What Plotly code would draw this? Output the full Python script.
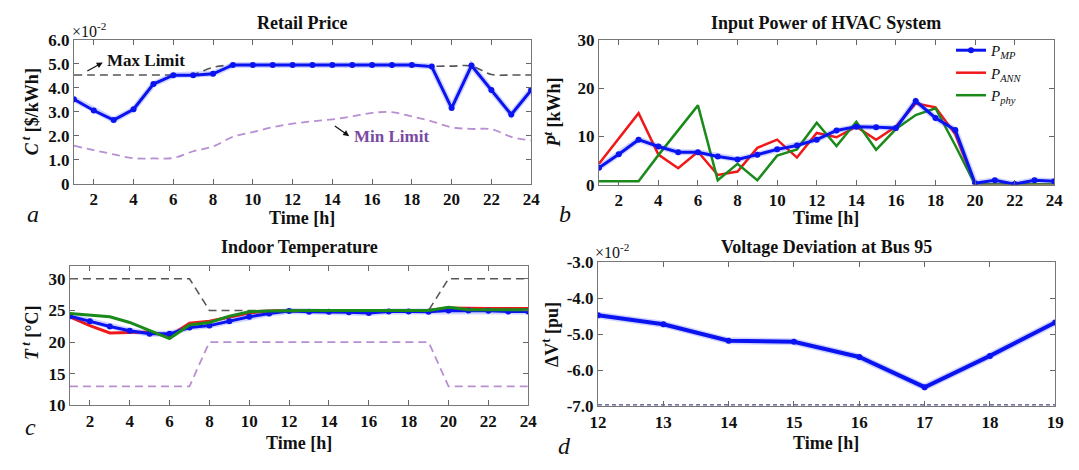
import plotly.graph_objects as go

W, H = 1079, 470
FONT = "Liberation Serif, Times New Roman, Times, serif"

hours = list(range(1, 25))
hours_d = [12, 13, 14, 15, 16, 17, 18, 19]

# Panel a: retail price (x1e-2 $/kWh)
price = [3.52, 3.05, 2.65, 3.1, 4.15, 4.52, 4.52, 4.58, 4.95, 4.95, 4.95, 4.95,
         4.95, 4.95, 4.95, 4.95, 4.95, 4.95, 4.88, 3.15, 4.92, 3.9, 2.88, 3.9]
price_max = [4.53, 4.53, 4.53, 4.53, 4.53, 4.53, 4.56, 4.85, 4.95, 4.95, 4.95, 4.95,
             4.95, 4.95, 4.95, 4.95, 4.95, 4.95, 4.9, 4.9, 4.9, 4.55, 4.53, 4.53]
price_min = [1.58, 1.4, 1.22, 1.06, 1.05, 1.07, 1.35, 1.55, 1.95, 2.15, 2.35, 2.5,
             2.6, 2.68, 2.8, 2.95, 2.98, 2.8, 2.6, 2.35, 2.28, 2.27, 1.95, 1.8]

# Panel b: input power of HVAC system (kWh)
p_mp = [3.5, 6.3, 9.3, 7.9, 6.7, 6.7, 5.8, 5.2, 6.2, 7.3, 8.1, 9.3,
        11.2, 12.0, 11.9, 11.7, 17.3, 13.8, 11.3, 0.3, 0.9, 0.1, 0.9, 0.7]
p_ann = [4.3, 9.5, 14.8, 6.2, 3.4, 6.8, 2.0, 2.7, 7.6, 9.3, 5.6, 10.7,
         9.8, 12.0, 9.3, 12.0, 16.8, 16.0, 10.4, 0.0, 0.0, 0.0, 0.0, 0.0]
p_phy = [0.7, 0.7, 0.7, 6.1, 11.3, 16.4, 0.9, 4.3, 0.9, 6.0, 7.3, 12.8,
         8.0, 13.0, 7.2, 11.5, 14.4, 15.8, 8.1, 0.0, 0.0, 0.0, 0.0, 0.0]

# Panel c: indoor temperature (degC)
t_mp = [24.1, 23.3, 22.45, 21.8, 21.3, 21.3, 22.3, 22.6, 23.3, 24.0, 24.5, 24.9,
        24.8, 24.8, 24.7, 24.6, 24.85, 24.85, 24.8, 25.0, 25.0, 24.95, 24.85, 24.85]
t_ann = [24.0, 22.6, 21.45, 21.5, 21.6, 20.9, 23.0, 23.3, 24.0, 24.6, 24.9, 25.0,
         25.0, 25.0, 25.0, 25.0, 25.0, 25.0, 25.0, 25.4, 25.3, 25.3, 25.3, 25.3]
t_phy = [24.5, 24.2, 24.0, 23.1, 21.8, 20.55, 22.7, 23.1, 24.1, 24.8, 24.9, 25.0,
         25.0, 25.0, 25.0, 25.0, 25.0, 25.0, 25.0, 25.5, 25.1, 25.1, 25.1, 25.1]
t_max = [30, 30, 30, 30, 30, 30, 30, 25, 25, 25, 25, 25,
         25, 25, 25, 25, 25, 25, 25, 30, 30, 30, 30, 30]
t_min = [13, 13, 13, 13, 13, 13, 13, 20, 20, 20, 20, 20,
         20, 20, 20, 20, 20, 20, 20, 13, 13, 13, 13, 13]

# Panel d: voltage deviation at bus 95 (x1e-2 pu)
dv = [-4.47, -4.72, -5.18, -5.21, -5.63, -6.47, -5.6, -4.67]
dv_limit = [-6.96] * len(hours_d)

BLUE = "#0a14f0"
HALO = "rgba(40,60,255,0.22)"
RED = "#f01818"
GREEN = "#1a8a1a"
GREY = "#555555"
PURPLE_L = "#b88fd2"
PURPLE_T = "#7a4aa2"


def px(x):
    return x / W


def py(y):
    return 1 - y / H


fig = go.Figure()


def add_line(xs, ys, xa, ya, color, width, dash=None, name=None, legend=False,
             markers=False, shape="linear", halo=False, rank=None):
    if halo:
        fig.add_trace(go.Scatter(x=xs, y=ys, xaxis=xa, yaxis=ya, mode="lines",
                                 line=dict(color=HALO, width=width + 3, shape=shape),
                                 showlegend=False, hoverinfo="skip"))
    tr = go.Scatter(
        x=xs, y=ys, xaxis=xa, yaxis=ya,
        mode="lines+markers" if markers else "lines",
        line=dict(color=color, width=width, dash=dash, shape=shape),
        marker=dict(size=6, color=color) if markers else None,
        name=name, showlegend=legend)
    if rank is not None:
        tr.legendrank = rank
    fig.add_trace(tr)


# panel a
add_line(hours, price_max, "x", "y", GREY, 1.6, dash="8px,5px", shape="spline")
add_line(hours, price_min, "x", "y", PURPLE_L, 1.8, dash="8px,5px", shape="spline")
add_line(hours, price, "x", "y", BLUE, 3, markers=True, halo=True)

# panel b
add_line(hours, p_ann, "x2", "y2", RED, 2.5, name="<i>P</i><sub><i>ANN</i></sub>",
         legend=True, rank=2)
add_line(hours, p_phy, "x2", "y2", GREEN, 2.5, name="<i>P</i><sub><i>phy</i></sub>",
         legend=True, rank=3)
add_line(hours, p_mp, "x2", "y2", BLUE, 3, markers=True, halo=True,
         name="<i>P</i><sub><i>MP</i></sub>", legend=True, rank=1)

# panel c
add_line(hours, t_max, "x3", "y3", GREY, 1.6, dash="8px,5px")
add_line(hours, t_min, "x3", "y3", PURPLE_L, 1.8, dash="8px,5px")
add_line(hours, t_ann, "x3", "y3", RED, 3)
add_line(hours, t_mp, "x3", "y3", BLUE, 3, markers=True, halo=True)
add_line(hours, t_phy, "x3", "y3", GREEN, 3)

# panel d
add_line(hours_d, dv_limit, "x4", "y4", "#4a4a8a", 1.2, dash="4px,3px")
add_line(hours_d, dv, "x4", "y4", BLUE, 4, markers=True, halo=True)

tickfont = dict(family=FONT, size=17, color="#111", weight="bold")


def axis(dom, rng, tv, tt, anchor):
    return dict(domain=dom, range=rng, tickvals=tv, ticktext=tt, anchor=anchor,
                ticks="inside", ticklen=5, tickcolor="#666", tickwidth=1,
                showline=True, linecolor="#777", linewidth=1, mirror="ticks",
                showgrid=False, zeroline=False, tickfont=tickfont)


xt = list(range(2, 25, 2))
xtt = [str(v) for v in xt]
doms = {
    "a": ([px(66), px(531)], [py(182), py(32)]),
    "b": ([px(600), px(1063)], [py(183), py(32)]),
    "c": ([px(62), px(528)], [py(413), py(268)]),
    "d": ([px(599), px(1064)], [py(414), py(264)]),
}

ya_vals = [0, 1, 2, 3, 4, 5, 6]
ya_text = ["0", "1.0", "2.0", "3.0", "4.0", "5.0", "6.0"]
yb_vals = [0, 10, 20, 30]
yc_vals = [10, 15, 20, 25, 30]
yd_vals = [-7, -6, -5, -4, -3]
yd_text = ["-7.0", "-6.0", "-5.0", "-4.0", "-3.0"]

fig.update_layout(
    width=W, height=H, margin=dict(l=0, r=0, t=0, b=0),
    paper_bgcolor="white", plot_bgcolor="white",
    font=dict(family=FONT),
    xaxis=axis(doms["a"][0], [1, 24], xt, xtt, "y"),
    yaxis=axis(doms["a"][1], [0, 6], ya_vals, ya_text, "x"),
    xaxis2=axis(doms["b"][0], [1, 24], xt, xtt, "y2"),
    yaxis2=axis(doms["b"][1], [0, 30], yb_vals, [str(v) for v in yb_vals], "x2"),
    xaxis3=axis(doms["c"][0], [1, 24], xt, xtt, "y3"),
    yaxis3=axis(doms["c"][1], [10, 32], yc_vals, [str(v) for v in yc_vals], "x3"),
    xaxis4=axis(doms["d"][0], [12, 19], hours_d, [str(v) for v in hours_d], "y4"),
    yaxis4=axis(doms["d"][1], [-7, -3], yd_vals, yd_text, "x4"),
    legend=dict(x=px(958), y=py(26), xanchor="left", yanchor="top",
                bgcolor="rgba(0,0,0,0)", tracegroupgap=0, itemwidth=30,
                font=dict(family=FONT, size=15, color="#111")),
)

bold = dict(family=FONT, size=18, color="#111", weight="bold")
ann = []


def text(x, y, s, font=bold, angle=0, xanchor="center"):
    ann.append(dict(x=px(x), y=py(y), xref="paper", yref="paper", text=s,
                    showarrow=False, font=font, textangle=angle,
                    xanchor=xanchor, yanchor="middle"))


# titles
text(298, 15, "Retail Price")
text(831, 15, "Input Power of HVAC System")
text(295, 248, "Indoor Temperature")
text(831, 248, "Voltage Deviation at Bus 95")
# x titles
text(298, 218, "Time [h]")
text(831, 218, "Time [h]")
text(295, 452, "Time [h]")
text(831, 452, "Time [h]")
# y titles
text(22, 107, "<i>C</i><sup> <i>t</i></sup> [$/kWh]", angle=-90)
text(553, 108, "<i>P</i><sup><i>t</i></sup> [kWh]", angle=-90)
text(22, 338, "<i>T</i><sup> <i>t</i></sup> [°C]", angle=-90)
text(551, 339, "ΔV<sup>t</sup> [pu]", angle=-90)
# multipliers
small = dict(family=FONT, size=16, color="#111")
text(62, 22, "×10<sup>-2</sup>", font=small, xanchor="left")
text(594, 252, "×10<sup>-2</sup>", font=small, xanchor="left")
# panel letters
letter = dict(family=FONT, size=24, color="#111", style="italic")
text(24, 214, "a", font=letter)
text(565, 214, "b", font=letter)
text(22, 436, "c", font=letter)
text(565, 455, "d", font=letter)

# in-plot labels (panel a)
ann.append(dict(x=2.55, y=5.12, xref="x", yref="y", text="Max Limit", showarrow=False,
                font=dict(family=FONT, size=17, color="#111", weight="bold"),
                xanchor="left", yanchor="middle"))
ann.append(dict(x=2.45, y=5.05, xref="x", yref="y", ax=1.6, ay=4.66, axref="x", ayref="y",
                text="", showarrow=True, arrowhead=2, arrowsize=1, arrowwidth=1.2,
                arrowcolor="#111"))
ann.append(dict(x=15.0, y=1.98, xref="x", yref="y", text="Min Limit", showarrow=False,
                font=dict(family=FONT, size=17, color=PURPLE_T, weight="bold"),
                xanchor="left", yanchor="middle"))
ann.append(dict(x=14.85, y=1.98, xref="x", yref="y", ax=14.05, ay=2.45, axref="x", ayref="y",
                text="", showarrow=True, arrowhead=2, arrowsize=1, arrowwidth=1.2,
                arrowcolor="#111"))

fig.update_layout(annotations=ann)
fig.write_html("out.html")
